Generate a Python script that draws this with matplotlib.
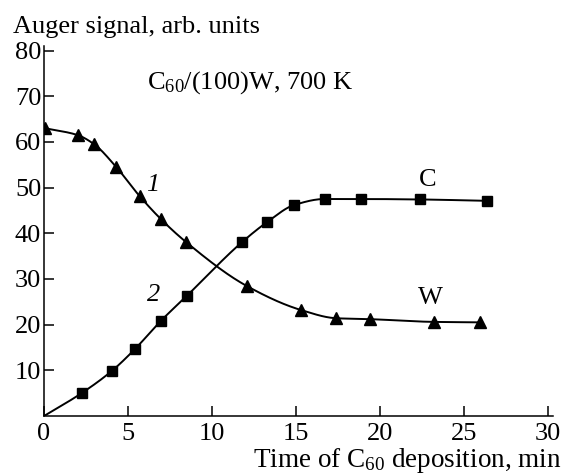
import numpy as np
import matplotlib
matplotlib.use("Agg")
import matplotlib.pyplot as plt

plt.rcParams["font.family"] = ["Liberation Serif", "DejaVu Serif"]
plt.rcParams["mathtext.fontset"] = "custom"
plt.rcParams["mathtext.rm"] = "Liberation Serif"
plt.rcParams["mathtext.it"] = "Liberation Serif:italic"

# W signal (curve 1), triangles
w_time = [0.06, 2.0, 2.98, 4.3, 5.7, 6.96, 8.45, 12.1, 15.3, 17.4, 19.4, 23.2, 25.95]
w_signal = [63.0, 61.5, 59.5, 54.5, 48.1, 43.1, 38.1, 28.4, 23.2, 21.4, 21.2, 20.6, 20.5]

# C signal (curve 2), squares; curve starts at the origin
c_time = [0.0, 2.24, 4.05, 5.4, 6.95, 8.5, 11.8, 13.3, 14.9, 16.7, 18.9, 22.4, 26.4]
c_signal = [0.0, 5.0, 9.9, 14.6, 20.8, 26.3, 38.1, 42.5, 46.2, 47.5, 47.5, 47.4, 47.1]

x_ticks = [0, 5, 10, 15, 20, 25, 30]
y_ticks = [10, 20, 30, 40, 50, 60, 70, 80]


def pchip(x, y, xs):
    # monotone cubic Hermite through the points
    x = np.asarray(x, float)
    y = np.asarray(y, float)
    h = np.diff(x)
    d = np.diff(y) / h
    m = np.zeros_like(y)
    m[0], m[-1] = d[0], d[-1]
    for k in range(1, len(x) - 1):
        if d[k - 1] * d[k] > 0:
            w1 = 2 * h[k] + h[k - 1]
            w2 = h[k] + 2 * h[k - 1]
            m[k] = (w1 + w2) / (w1 / d[k - 1] + w2 / d[k])
    idx = np.clip(np.searchsorted(x, xs) - 1, 0, len(x) - 2)
    t = (xs - x[idx]) / h[idx]
    h00 = 2 * t**3 - 3 * t**2 + 1
    h10 = t**3 - 2 * t**2 + t
    h01 = -2 * t**3 + 3 * t**2
    h11 = t**3 - t**2
    return (h00 * y[idx] + h10 * h[idx] * m[idx]
            + h01 * y[idx + 1] + h11 * h[idx] * m[idx + 1])


fig = plt.figure(figsize=(5.64, 4.75), dpi=100)
ax = fig.add_axes([0.078, 0.1242, 0.9025, 0.779])

xs = np.linspace(w_time[0], w_time[-1], 400)
ax.plot(xs, pchip(w_time, w_signal, xs), color="black", lw=1.4)
ax.plot(w_time, w_signal, ls="none", marker="^", ms=9, color="black")

xs = np.linspace(c_time[0], c_time[-1], 400)
ax.plot(xs, pchip(c_time, c_signal, xs), color="black", lw=1.4)
ax.plot(c_time[1:], c_signal[1:], ls="none", marker="s", ms=7.5, color="black")

ax.set_xlim(0, 30.3)
ax.set_ylim(0, 81)
ax.set_xticks(x_ticks)
ax.set_yticks(y_ticks)
ax.spines["top"].set_visible(False)
ax.spines["right"].set_visible(False)
for s in ("left", "bottom"):
    ax.spines[s].set_linewidth(1.1)
ax.tick_params(direction="in", length=7, width=1.1, labelsize=19)
ax.tick_params(axis="x", pad=5)
ax.tick_params(axis="y", pad=2)

fs = 19
ax.text(6.13, 71.6, r"C$_{60}$/(100)W, 700 K", fontsize=fs, va="baseline")
ax.text(6.5, 50.5, "1", fontsize=fs, style="italic", ha="center", va="center")
ax.text(6.5, 26.5, "2", fontsize=fs, style="italic", ha="center", va="center")
ax.text(22.86, 51.6, "C", fontsize=fs, ha="center", va="center")
ax.text(23.0, 25.8, "W", fontsize=fs, ha="center", va="center")

fig.text(0.023, 0.9305, "Auger signal, arb. units", fontsize=fs, va="baseline")
fig.text(0.995, 0.016, r"Time of C$_{60}$ deposition, min", fontsize=19.5,
         ha="right", va="baseline")

fig.savefig("out.png", dpi=100)
